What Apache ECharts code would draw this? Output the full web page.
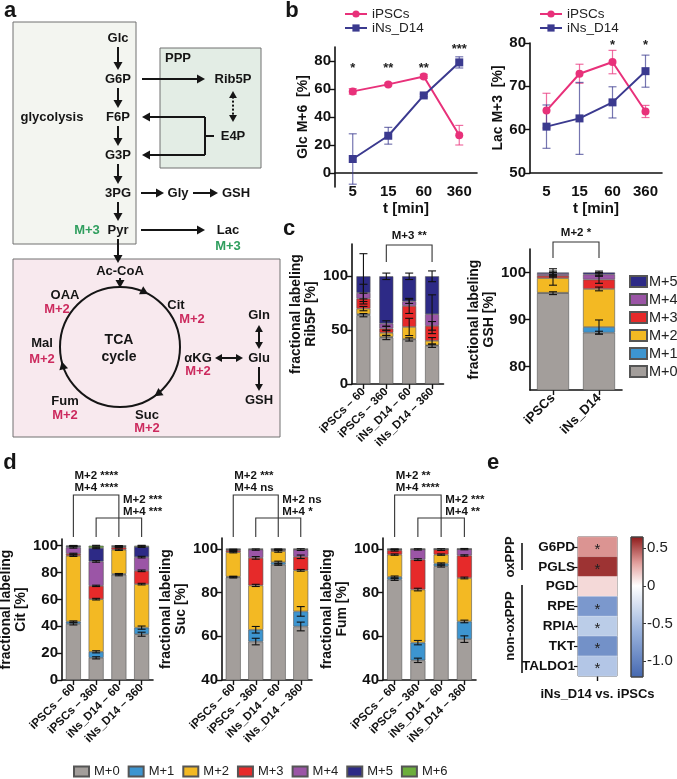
<!DOCTYPE html>
<html>
<head>
<meta charset="utf-8">
<script src="https://cdn.jsdelivr.net/npm/echarts@6/dist/echarts.min.js"></script>
<style>
  html, body { margin: 0; padding: 0; background: #fff; }
  #chart { width: 677px; height: 779px; }
</style>
</head>
<body>
<div id="chart"></div>
<script>
const FONT = '"Liberation Sans", Arial, sans-serif';

// ---- panel b: time course ----
const times = ['5', '15', '60', '360'];
const glcIPSC = [58.3, 63.3, 69.0, 27.0];
const glcIPSCErr = [2, 1, 1.5, 7];
const glcINs = [10, 26.6, 55.4, 79];
const glcINsErr = [18, 6, 1, 4];
const glcStars = ['*', '**', '**', '***'];
const glcStarY = [75, 75, 75, 88];
const lacIPSC = [64.4, 72.9, 75.6, 64.2];
const lacIPSCErr = [4, 2.2, 2.7, 1.4];
const lacINs = [60.7, 62.6, 66.3, 73.5];
const lacINsErr = [5, 8.3, 3.6, 3.7];
const lacStars = ['', '', '*', '*'];
const lacStarY = [0, 0, 79.5, 79.5];

// ---- panels c, d: isotopologue fractions (rows = M+0, M+1, ...; one value per bar) ----
const isoNames = ['M+0', 'M+1', 'M+2', 'M+3', 'M+4', 'M+5', 'M+6'];
const isoColors = ['#a39e9b', '#3d95d0', '#f3b923', '#e62a2a', '#9b55a6', '#2d2a86', '#6cae3c'];
const condLabels = ['iPSCs – 60', 'iPSCs – 360', 'iNs_D14 – 60', 'iNs_D14 – 360'];
const cellLabels = ['iPSCs', 'iNs_D14'];

const rib5p = [
  [63.9, 43.2, 41.4, 35.5],
  [1.0, 0.5, 0.4, 0.5],
  [5.1, 3.8, 11.2, 4.1],
  [9.3, 4.0, 19.5, 13.9],
  [5.3, 4.7, 4.3, 10.8],
  [15.4, 43.8, 23.2, 35.2]
];
const rib5pErr = [
  [1.5, 2, 1.5, 1.5],
  [0, 0, 0, 0],
  [2, 2.5, 8, 3],
  [5, 2, 7, 4],
  [8, 2.5, 2, 18],
  [21, 3, 3, 5]
];
const gsh = [
  [95.6, 87.2],
  [0.1, 1.2],
  [3.1, 8.1],
  [0.5, 2.0],
  [0.4, 1.1],
  [0.3, 0.4]
];
const gshErr = [
  [0.3, 0.3],
  [0, 1.5],
  [1.5, 0.4],
  [0.3, 0.8],
  [0.3, 0.4],
  [0.8, 0.3]
];
const cit = [
  [41.8, 16.5, 78.4, 34.1],
  [1.7, 4.5, 0.6, 4.9],
  [49.0, 39.2, 18.0, 32.4],
  [1.5, 9.9, 1.8, 9.9],
  [4.7, 18.2, 0.5, 10.2],
  [1.0, 10.0, 0.5, 7.7],
  [0.3, 1.7, 0.2, 0.8]
];
const citErr = [
  [0.8, 0.8, 0.8, 1.5],
  [0.5, 0.8, 0.3, 1.2],
  [0.5, 0.6, 0.5, 0.6],
  [0.4, 0.5, 0.3, 0.6],
  [0.5, 0.6, 0.3, 0.6],
  [0.3, 0.5, 0.3, 0.5],
  [0.2, 0.3, 0.2, 0.3]
];
const suc = [
  [87.0, 57.6, 92.8, 64.5],
  [0.3, 5.4, 1.1, 6.9],
  [11.2, 20.3, 5.1, 18.8],
  [0.9, 12.6, 0.5, 6.2],
  [0.3, 3.8, 0.3, 3.3],
  [0.2, 0.2, 0.1, 0.2],
  [0.1, 0.1, 0.1, 0.1]
];
const sucErr = [
  [0.3, 1.5, 0.3, 2.0],
  [0.2, 1.5, 0.5, 2.2],
  [0.3, 0.5, 0.5, 0.4],
  [0.2, 0.6, 0.2, 0.8],
  [0.2, 0.3, 0.2, 0.4],
  [0, 0, 0, 0],
  [0, 0, 0, 0]
];
const fum = [
  [86.0, 49.0, 92.1, 58.7],
  [1.2, 8.1, 1.2, 8.1],
  [10.2, 24.3, 4.1, 19.9],
  [2.0, 13.7, 2.3, 10.3],
  [0.4, 4.7, 0.2, 2.9],
  [0.1, 0.1, 0.05, 0.05],
  [0.1, 0.1, 0.05, 0.05]
];
const fumErr = [
  [0.4, 1.0, 0.4, 1.5],
  [0.4, 1.0, 0.3, 0.6],
  [0.3, 0.6, 0.3, 0.4],
  [0.4, 0.4, 0.4, 0.3],
  [0.2, 0.3, 0.2, 0.3],
  [0, 0, 0, 0],
  [0, 0, 0, 0]
];

// ---- panel e: log2 fold change heatmap ----
const genes = ['G6PD', 'PGLS', 'PGD', 'RPE', 'RPIA', 'TKT', 'TALDO1'];
const geneFC = [0.33, 0.58, 0.12, -0.82, -0.40, -0.88, -0.45];
const geneSig = ['*', '*', '', '*', '*', '*', '*'];
const cbMin = -1.21, cbMax = 0.65;
const cbTicks = [-1.0, -0.5, 0, 0.5];

// colour map (blue - white - red)
const cmapStops = [[-1.21, [69, 104, 176]], [-0.6, [154, 179, 221]], [0, [255, 255, 255]], [0.3, [226, 160, 157]], [0.65, [140, 24, 24]]];
function cmap(v) {
  if (v <= cmapStops[0][0]) v = cmapStops[0][0];
  for (let i = 1; i < cmapStops.length; i++) {
    if (v <= cmapStops[i][0] || i === cmapStops.length - 1) {
      const a = cmapStops[i - 1], b = cmapStops[i];
      const t = Math.min(1, (v - a[0]) / (b[0] - a[0]));
      const c = a[1].map((x, k) => Math.round(x + (b[1][k] - x) * t));
      return 'rgb(' + c.join(',') + ')';
    }
  }
}

const chart = echarts.init(document.getElementById('chart'));

const axLine = { show: true, onZero: false, lineStyle: { color: '#111', width: 1.6 } };
function valAxis(gi, min, max, ticks, extra) {
  return Object.assign({
    type: 'value', gridIndex: gi, min: min, max: max,
    splitLine: { show: false },
    axisLine: axLine,
    axisTick: { show: true, length: 5, customValues: ticks, lineStyle: { color: '#111', width: 1.4 } },
    axisLabel: { customValues: ticks, color: '#111', fontFamily: FONT, fontWeight: 'bold', fontSize: 15, margin: 4 },
    nameTextStyle: { color: '#111', fontFamily: FONT, fontWeight: 'bold', fontSize: 14, lineHeight: 15 }
  }, extra || {});
}
function catAxis(gi, data, extra) {
  return Object.assign({
    type: 'category', gridIndex: gi, data: data,
    axisLine: axLine,
    axisTick: { show: true, length: 5, alignWithLabel: true, lineStyle: { color: '#111', width: 1.4 } },
    axisLabel: { interval: 0, rotate: 45, color: '#111', fontFamily: FONT, fontWeight: 'bold', fontSize: 11.5, margin: 6 },
    nameTextStyle: { color: '#111', fontFamily: FONT, fontWeight: 'bold', fontSize: 14 }
  }, extra || {});
}
const timeAxisExtra = {
  axisTick: { show: false },
  axisLabel: { interval: 0, color: '#111', fontFamily: FONT, fontWeight: 'bold', fontSize: 15, margin: 11 },
  name: 't [min]', nameLocation: 'middle', nameGap: 28,
  nameTextStyle: { color: '#111', fontFamily: FONT, fontWeight: 'bold', fontSize: 15 }
};

function errRender(color, cap, width) {
  return function (params, api) {
    const x = api.value(0), v = api.value(1), e = api.value(2);
    const t = api.coord([x, v + e]), b = api.coord([x, v - e]);
    const st = { stroke: color, lineWidth: width };
    return {
      type: 'group', children: [
        { type: 'line', shape: { x1: t[0], y1: t[1], x2: b[0], y2: b[1] }, style: st },
        { type: 'line', shape: { x1: t[0] - cap, y1: t[1], x2: t[0] + cap, y2: t[1] }, style: st },
        { type: 'line', shape: { x1: b[0] - cap, y1: b[1], x2: b[0] + cap, y2: b[1] }, style: st }
      ]
    };
  };
}
function starRender(stars, ys) {
  return function (params, api) {
    const i = params.dataIndex;
    if (!stars[i]) return;
    const p = api.coord([i, ys[i]]);
    return { type: 'text', x: p[0], y: p[1], style: { text: stars[i], align: 'center', verticalAlign: 'middle', fontFamily: FONT, fontWeight: 'bold', fontSize: 13, fill: '#222' } };
  };
}

function lineSeries(gi, ipsc, ipscErr, ins, insErr, stars, starY) {
  return [
    { type: 'custom', xAxisIndex: gi, yAxisIndex: gi, data: ipsc.map((v, i) => [i, v, ipscErr[i]]), renderItem: errRender('rgba(232,49,122,0.7)', 4, 1.2), z: 1 },
    { type: 'custom', xAxisIndex: gi, yAxisIndex: gi, data: ins.map((v, i) => [i, v, insErr[i]]), renderItem: errRender('rgba(59,58,143,0.7)', 4, 1.2), z: 1 },
    { type: 'line', name: 'iPSCs', xAxisIndex: gi, yAxisIndex: gi, data: ipsc, symbol: 'circle', symbolSize: 8, color: '#e8317a', lineStyle: { width: 2 }, z: 3 },
    { type: 'line', name: 'iNs_D14', xAxisIndex: gi, yAxisIndex: gi, data: ins, symbol: 'rect', symbolSize: 8, color: '#3b3a8f', lineStyle: { width: 2 }, z: 3 },
    { type: 'custom', xAxisIndex: gi, yAxisIndex: gi, data: stars.map((s, i) => [i, starY[i]]), renderItem: starRender(stars, starY), z: 4 }
  ];
}

function stackSeries(gi, rows, errs, barW) {
  const out = [];
  rows.forEach((vals, k) => out.push({
    type: 'bar', name: isoNames[k], xAxisIndex: gi, yAxisIndex: gi, stack: 's' + gi, barWidth: barW,
    data: vals, itemStyle: { color: isoColors[k], borderColor: '#555', borderWidth: 0.6 }
  }));
  const pts = [];
  for (let i = 0; i < rows[0].length; i++) {
    let cum = 0;
    rows.forEach((vals, k) => {
      cum += vals[i];
      if (vals[i] >= 0.3 && errs[k][i] > 0) pts.push([i, cum, errs[k][i]]);
    });
  }
  out.push({ type: 'custom', xAxisIndex: gi, yAxisIndex: gi, data: pts, renderItem: errRender('#111', 4, 1.1), z: 5 });
  return out;
}

const series = [].concat(
  lineSeries(0, glcIPSC, glcIPSCErr, glcINs, glcINsErr, glcStars, glcStarY),
  lineSeries(1, lacIPSC, lacIPSCErr, lacINs, lacINsErr, lacStars, lacStarY),
  stackSeries(2, rib5p, rib5pErr, 14),
  stackSeries(3, gsh, gshErr, 32),
  stackSeries(4, cit, citErr, 15),
  stackSeries(5, suc, sucErr, 15),
  stackSeries(6, fum, fumErr, 15)
);
const heatSeriesIndex = series.length;
series.push({
  type: 'heatmap', xAxisIndex: 7, yAxisIndex: 7,
  data: genes.map((g, i) => [0, i, geneFC[i]]),
  itemStyle: { borderColor: 'rgba(255,255,255,0.6)', borderWidth: 0.5 },
  label: { show: true, formatter: p => geneSig[p.dataIndex], color: '#222', fontSize: 15, fontFamily: FONT, offset: [0, 3] }
});
series.push({
  type: 'custom', xAxisIndex: 8, yAxisIndex: 8, data: [[0, 0]],
  renderItem: function (params, api) {
    const cs = params.coordSys;
    const stops = [];
    for (let i = 0; i <= 40; i++) {
      const t = i / 40;
      stops.push({ offset: t, color: cmap(cbMax - t * (cbMax - cbMin)) });
    }
    return { type: 'rect', shape: { x: cs.x, y: cs.y, width: cs.width, height: cs.height },
      style: { fill: new echarts.graphic.LinearGradient(0, 0, 0, 1, stops), stroke: '#444', lineWidth: 1 } };
  }
});

const visualColors = [];
for (let i = 0; i <= 40; i++) visualColors.push(cmap(cbMin + i / 40 * (cbMax - cbMin)));

const twoLine = (a, b) => a + '\n' + b;

const option = {
  animation: false,
  textStyle: { fontFamily: FONT },
  grid: [
    { left: 335, top: 47, width: 142, height: 140 },
    { left: 530, top: 43, width: 132, height: 130 },
    { left: 352, top: 244, width: 91.5, height: 140 },
    { left: 530, top: 249, width: 92, height: 141 },
    { left: 62, top: 539, width: 91, height: 141 },
    { left: 222, top: 538, width: 90, height: 142 },
    { left: 383, top: 538, width: 93, height: 142 },
    { left: 578, top: 537, width: 39, height: 139, show: true, borderColor: '#333', borderWidth: 1 },
    { left: 631, top: 537, width: 12, height: 140 }
  ].map(g => Object.assign({ outerBoundsMode: 'none', containLabel: false }, g)),
  xAxis: [
    // left time axis sits on y = 0 (14 px above the grid bottom)
    catAxis(0, times, Object.assign({ offset: -14 }, timeAxisExtra)),
    catAxis(1, times, timeAxisExtra),
    catAxis(2, condLabels),
    catAxis(3, cellLabels, { axisLabel: { interval: 0, rotate: 45, color: '#111', fontFamily: FONT, fontWeight: 'bold', fontSize: 13, margin: 6 } }),
    catAxis(4, condLabels),
    catAxis(5, condLabels),
    catAxis(6, condLabels),
    catAxis(7, ['iNs_D14 vs. iPSCs'], { axisLine: { show: false }, axisLabel: { interval: 0, color: '#111', fontFamily: FONT, fontWeight: 'bold', fontSize: 13, margin: 12 } }),
    { type: 'category', gridIndex: 8, data: [''], show: false }
  ],
  yAxis: [
    valAxis(0, -10, 90, [0, 20, 40, 60, 80], { name: 'Glc M+6  [%]', nameLocation: 'middle', nameGap: 18 }),
    valAxis(1, 50, 80, [50, 60, 70, 80], { name: 'Lac M+3  [%]', nameLocation: 'middle', nameGap: 24 }),
    valAxis(2, 0, 130, [0, 50, 100], { name: twoLine('fractional labeling', 'Rib5P [%]'), nameLocation: 'middle', nameGap: 29 }),
    valAxis(3, 75, 105, [80, 90, 100], { name: twoLine('fractional labeling', 'GSH [%]'), nameLocation: 'middle', nameGap: 31 }),
    valAxis(4, 0, 105, [0, 20, 40, 60, 80, 100], { name: twoLine('fractional labeling', 'Cit [%]'), nameLocation: 'middle', nameGap: 27 }),
    valAxis(5, 40, 105, [40, 60, 80, 100], { name: twoLine('fractional labeling', 'Suc [%]'), nameLocation: 'middle', nameGap: 19 }),
    valAxis(6, 40, 105, [40, 60, 80, 100], { name: twoLine('fractional labeling', 'Fum [%]'), nameLocation: 'middle', nameGap: 28 }),
    { type: 'category', gridIndex: 7, data: genes, inverse: true,
      axisLine: { show: false },
      axisTick: { show: true, length: 4, alignWithLabel: true, lineStyle: { color: '#111', width: 1.2 } },
      axisLabel: { interval: 0, color: '#111', fontFamily: FONT, fontWeight: 'bold', fontSize: 13.5, margin: 3 } },
    { type: 'value', gridIndex: 8, min: cbMin, max: cbMax, position: 'right', splitLine: { show: false },
      axisLine: { show: false },
      axisTick: { show: true, length: 3, customValues: cbTicks, lineStyle: { color: '#333' } },
      axisLabel: { customValues: cbTicks, color: '#222', fontFamily: FONT, fontSize: 15, margin: 4,
        formatter: v => (v === 0 ? '0' : v.toFixed(1)) } }
  ],
  visualMap: [{
    show: false, type: 'continuous', min: cbMin, max: cbMax, dimension: 2,
    seriesIndex: heatSeriesIndex, inRange: { color: visualColors }
  }],
  legend: [
    { left: 339, top: 2, orient: 'vertical', itemGap: 0, itemWidth: 22, itemHeight: 9, selectedMode: false,
      data: ['iPSCs', 'iNs_D14'], textStyle: { fontSize: 13.5, color: '#222', fontFamily: FONT } },
    { left: 534, top: 2, orient: 'vertical', itemGap: 0, itemWidth: 22, itemHeight: 9, selectedMode: false,
      data: ['iPSCs', 'iNs_D14'], textStyle: { fontSize: 13.5, color: '#222', fontFamily: FONT } },
    { left: 624, top: 269, orient: 'vertical', itemGap: 3, itemWidth: 17, itemHeight: 11, icon: 'rect', selectedMode: false,
      data: isoNames.slice(0, 6).reverse(), textStyle: { fontSize: 14.5, color: '#222', fontFamily: FONT, padding: [0, 0, 0, -3] } },
    { left: 68, top: 760, orient: 'horizontal', itemGap: 8, itemWidth: 15, itemHeight: 10, icon: 'rect', selectedMode: false,
      data: isoNames, textStyle: { fontSize: 13, color: '#222', fontFamily: FONT } }
  ],
  series: series
};
chart.setOption(option);

// ---- graphic: pathway (a), panel letters, brackets, heatmap groups ----
const INK = '#151515', MAG = '#cc2a5e', GRN = '#2f9e5e';
function T(x, y, s, o) {
  o = o || {};
  return { type: 'text', x: x, y: y, rotation: o.rot || 0, z: 10,
    style: { text: s, align: o.align || 'center', verticalAlign: 'middle', fill: o.fill || INK,
      fontFamily: FONT, fontWeight: o.weight || 'bold', fontSize: o.size || 13 } };
}
function L(x1, y1, x2, y2, o) {
  o = o || {};
  return { type: 'line', z: 10, shape: { x1: x1, y1: y1, x2: x2, y2: y2 },
    style: { stroke: o.stroke || INK, lineWidth: o.w || 2, lineDash: o.dash || null } };
}
function head(x, y, a, size) {
  const Lh = size || 8, W = (size || 8) * 0.56;
  const bx = x - Lh * Math.cos(a), by = y - Lh * Math.sin(a);
  const px = -Math.sin(a) * W, py = Math.cos(a) * W;
  return { type: 'polygon', z: 10, shape: { points: [[x, y], [bx + px, by + py], [bx - px, by - py]] }, style: { fill: INK } };
}
function arrow(x1, y1, x2, y2, o) {
  o = o || {};
  const a = Math.atan2(y2 - y1, x2 - x1), s = o.size || 8;
  const out = [L(x1 + (o.both ? s * Math.cos(a) * 0.8 : 0), y1 + (o.both ? s * Math.sin(a) * 0.8 : 0),
    x2 - s * Math.cos(a) * 0.8, y2 - s * Math.sin(a) * 0.8, o), head(x2, y2, a, s)];
  if (o.both) out.push(head(x1, y1, a + Math.PI, s));
  return out;
}

let G = [];
// panel letters
G.push(T(10, 11, 'a', { size: 22 }), T(292, 11, 'b', { size: 22 }), T(289, 229, 'c', { size: 22 }),
  T(10, 463, 'd', { size: 22 }), T(493, 463, 'e', { size: 22 }));
// boxes
G.push({ type: 'rect', shape: { x: 13, y: 22, width: 123, height: 222 }, style: { fill: '#f3f5f0', stroke: '#707070', lineWidth: 1 } });
G.push({ type: 'rect', shape: { x: 160, y: 48, width: 101, height: 120 }, style: { fill: '#e3ede5', stroke: '#707070', lineWidth: 1 } });
G.push({ type: 'rect', shape: { x: 13, y: 259, width: 267, height: 178 }, style: { fill: '#f8e9ee', stroke: '#707070', lineWidth: 1 } });
// glycolysis
[['Glc', 38], ['G6P', 79], ['F6P', 117], ['G3P', 155], ['3PG', 193], ['Pyr', 230]].forEach(m => G.push(T(118, m[1], m[0])));
G.push(T(52, 117, 'glycolysis'), T(165, 58, 'PPP', { align: 'left' }), T(233, 79, 'Rib5P'), T(233, 136, 'E4P'),
  T(178, 193, 'Gly'), T(236, 193, 'GSH'), T(228, 230, 'Lac'), T(87, 230, 'M+3', { fill: GRN }), T(228, 246, 'M+3', { fill: GRN }),
  T(120, 271, 'Ac-CoA'));
[[47, 70], [88, 108], [126, 146], [164, 184], [202, 221], [239, 263]].forEach(s => G = G.concat(arrow(118, s[0], 118, s[1])));
G = G.concat(arrow(142, 79, 205, 79), arrow(141, 193, 164, 193), arrow(193, 193, 218, 193), arrow(141, 230, 205, 230));
G = G.concat(arrow(233, 91, 233, 122, { both: true, dash: [2, 2], size: 7 }));
G.push(L(214, 136, 205, 136), L(205, 117, 205, 155));
G = G.concat(arrow(205, 117, 142, 117), arrow(205, 155, 142, 155));
// TCA cycle
const cx = 120, cy = 347, cr = 60;
G.push({ type: 'circle', z: 10, shape: { cx: cx, cy: cy, r: cr }, style: { fill: null, stroke: INK, lineWidth: 2 } });
G = G.concat(arrow(120, 278, 120, 288));
[-62, 55, 166].forEach(d => {
  const t = d * Math.PI / 180;
  G.push(head(cx + cr * Math.cos(t), cy + cr * Math.sin(t), t + Math.PI / 2, 8));
});
G.push(T(65, 295, 'OAA'), T(57, 309, 'M+2', { fill: MAG }), T(176, 305, 'Cit'), T(192, 319, 'M+2', { fill: MAG }),
  T(42, 343, 'Mal'), T(42, 359, 'M+2', { fill: MAG }), T(119, 340, 'TCA', { size: 14 }), T(119, 357, 'cycle', { size: 14 }),
  T(198, 358, 'αKG'), T(198, 371, 'M+2', { fill: MAG }), T(259, 315, 'Gln'), T(259, 358, 'Glu'), T(259, 400, 'GSH'),
  T(65, 401, 'Fum'), T(65, 415, 'M+2', { fill: MAG }), T(147, 415, 'Suc'), T(147, 428, 'M+2', { fill: MAG }));
G = G.concat(arrow(215, 358, 243, 358, { both: true, size: 7 }), arrow(259, 325, 259, 349, { both: true, size: 7 }),
  arrow(259, 367, 259, 391, { size: 7 }));

// significance brackets
function px(gi, c) { return chart.convertToPixel({ xAxisIndex: gi }, c); }
function bracket(gi, c1, c2, yTop, yBot) {
  const x1 = px(gi, c1), x2 = px(gi, c2);
  return { type: 'polyline', z: 10, shape: { points: [[x1, yBot], [x1, yTop], [x2, yTop], [x2, yBot]] },
    style: { stroke: '#333', lineWidth: 1.1, fill: null } };
}
const sm = { size: 11.5, align: 'left' };
G.push(bracket(2, 1, 3, 245, 262), T(px(2, 2), 236, 'M+3 **', { size: 11.5 }));
G.push(bracket(3, 0, 1, 242, 258), T((px(3, 0) + px(3, 1)) / 2, 233, 'M+2 *', { size: 11.5 }));
[[4, ['M+2 ****', 'M+4 ****'], ['M+2 ***', 'M+4 ***']],
 [5, ['M+2 ***', 'M+4 ns'], ['M+2 ns', 'M+4 *']],
 [6, ['M+2 **', 'M+4 ****'], ['M+2 ***', 'M+4 **']]].forEach(d => {
  const gi = d[0];
  G.push(bracket(gi, 0, 2, 495, 537), bracket(gi, 1, 3, 518, 537));
  G.push(T(px(gi, 0) + 1, 476, d[1][0], sm), T(px(gi, 0) + 1, 488, d[1][1], sm));
  G.push(T(px(gi, 2) + 4, 500, d[2][0], sm), T(px(gi, 2) + 4, 512, d[2][1], sm));
});
// heatmap groups
G.push(L(522, 543, 522, 570, { w: 1.6 }), T(510, 557, 'oxPPP', { rot: Math.PI / 2, size: 13 }));
G.push(L(522, 585, 522, 673, { w: 1.6 }), T(510, 626, 'non-oxPPP', { rot: Math.PI / 2, size: 13 }));

chart.setOption({ graphic: { elements: G } });
</script>
</body>
</html>
